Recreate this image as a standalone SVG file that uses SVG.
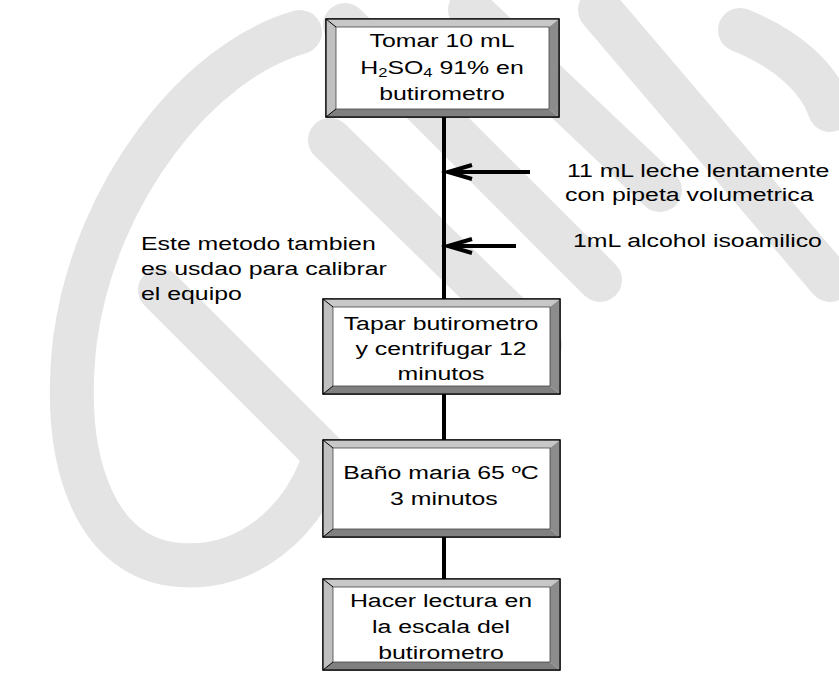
<svg xmlns="http://www.w3.org/2000/svg" width="839" height="674" viewBox="0 0 839 674">
  <defs>
    <style>
      .t { font-family: "Liberation Sans", Arial, sans-serif; font-size: 18px; fill: #000; }
      .c { text-anchor: middle; }
      .outer { fill: #fff; stroke: #000; stroke-width: 1.2; }
      .frame { fill: none; stroke: #000; stroke-width: 1.2; }
      .inner { fill: #fff; stroke: #444; stroke-width: 0.8; }
      .bev-t { fill: #c8c8c8; }
      .bev-l { fill: #c0c0c0; }
      .bev-b { fill: #808080; }
      .bev-r { fill: #8c8c8c; }
      .corner { stroke: #000; stroke-width: 1; fill: none; }
      .wire { stroke: #000; stroke-width: 4; fill: none; }
      .mark { stroke: #e4e4e4; stroke-width: 44; fill: none; stroke-linecap: round; stroke-linejoin: round; }
    </style>
    <!-- open chevron arrowhead, tip at the line end -->
    <marker id="head" markerUnits="userSpaceOnUse" markerWidth="30" markerHeight="24" refX="25" refY="10" orient="auto" overflow="visible">
      <path d="M1,3 L25,10 L1,17" fill="none" stroke="#000" stroke-width="4"/>
    </marker>
  </defs>

  <rect width="839" height="674" fill="#fff"/>

  <!-- background watermark strokes -->
  <g id="watermark">
    <path class="mark" d="M300,32 C200,60 95,190 75,340 C60,470 100,560 180,565 C250,570 300,520 320,470"/>
    <path class="mark" d="M160,290 L330,460"/>
    <path class="mark" d="M345,25 L600,280"/>
    <path class="mark" d="M330,140 L540,345"/>
    <path class="mark" d="M470,10 L660,190"/>
    <path class="mark" d="M600,10 L830,280"/>
    <path class="mark" d="M740,30 C790,50 820,80 830,110"/>
  </g>

  <!-- connectors -->
  <g id="connectors">
    <line class="wire" x1="444" y1="112" x2="444" y2="303"/>
    <line class="wire" x1="444" y1="390" x2="444" y2="444"/>
    <line class="wire" x1="444" y1="532" x2="444" y2="583"/>
    <line class="wire" x1="530" y1="172" x2="448" y2="172" marker-end="url(#head)"/>
    <line class="wire" x1="516" y1="246" x2="448" y2="246" marker-end="url(#head)"/>
  </g>

  <!-- step 1 -->
  <g id="n1">
    <rect class="outer" x="326" y="19" width="233" height="98"/>
    <polygon class="bev-t" points="326,19 559,19 549,27 336,27"/>
    <polygon class="bev-l" points="326,19 336,27 336,109 326,117"/>
    <polygon class="bev-b" points="326,117 336,109 549,109 559,117"/>
    <polygon class="bev-r" points="559,19 549,27 549,109 559,117"/>
    <rect class="inner" x="336" y="27" width="213" height="82"/>
    <path class="corner" d="M326,19 L336,27 M326,117 L336,109"/>
    <rect class="frame" x="326" y="19" width="233" height="98"/>
    <text class="t c" transform="translate(442 47) scale(1.38 1)">Tomar 10 mL</text>
    <text class="t c" transform="translate(442 74) scale(1.38 1)">H<tspan font-size="12" dy="3">2</tspan><tspan dy="-3">SO</tspan><tspan font-size="12" dy="3">4</tspan><tspan dy="-3"> 91% en</tspan></text>
    <text class="t c" transform="translate(442 100) scale(1.38 1)">butirometro</text>
  </g>

  <!-- step 2 -->
  <g id="n2">
    <rect class="outer" x="323" y="299" width="237" height="95"/>
    <polygon class="bev-t" points="323,299 560,299 550,307 333,307"/>
    <polygon class="bev-l" points="323,299 333,307 333,386 323,394"/>
    <polygon class="bev-b" points="323,394 333,386 550,386 560,394"/>
    <polygon class="bev-r" points="560,299 550,307 550,386 560,394"/>
    <rect class="inner" x="333" y="307" width="217" height="79"/>
    <path class="corner" d="M323,299 L333,307 M323,394 L333,386"/>
    <rect class="frame" x="323" y="299" width="237" height="95"/>
    <text class="t c" transform="translate(441 330) scale(1.38 1)">Tapar butirometro</text>
    <text class="t c" transform="translate(441 355) scale(1.38 1)">y centrifugar 12</text>
    <text class="t c" transform="translate(441 380) scale(1.38 1)">minutos</text>
  </g>

  <!-- step 3 -->
  <g id="n3">
    <rect class="outer" x="323" y="440" width="237" height="97"/>
    <polygon class="bev-t" points="323,440 560,440 550,448 333,448"/>
    <polygon class="bev-l" points="323,440 333,448 333,529 323,537"/>
    <polygon class="bev-b" points="323,537 333,529 550,529 560,537"/>
    <polygon class="bev-r" points="560,440 550,448 550,529 560,537"/>
    <rect class="inner" x="333" y="448" width="217" height="81"/>
    <path class="corner" d="M323,440 L333,448 M323,537 L333,529"/>
    <rect class="frame" x="323" y="440" width="237" height="97"/>
    <text class="t c" transform="translate(441 479) scale(1.38 1)">Baño maria 65 ºC</text>
    <text class="t" transform="translate(390 505) scale(1.38 1)">3 minutos</text>
  </g>

  <!-- step 4 -->
  <g id="n4">
    <rect class="outer" x="323" y="579" width="237" height="91"/>
    <polygon class="bev-t" points="323,579 560,579 550,587 333,587"/>
    <polygon class="bev-l" points="323,579 333,587 333,662 323,670"/>
    <polygon class="bev-b" points="323,670 333,662 550,662 560,670"/>
    <polygon class="bev-r" points="560,579 550,587 550,662 560,670"/>
    <rect class="inner" x="333" y="587" width="217" height="75"/>
    <path class="corner" d="M323,579 L333,587 M323,670 L333,662"/>
    <rect class="frame" x="323" y="579" width="237" height="91"/>
    <text class="t c" transform="translate(441 607) scale(1.38 1)">Hacer lectura en</text>
    <text class="t c" transform="translate(441 633) scale(1.38 1)">la escala del</text>
    <text class="t c" transform="translate(441 659) scale(1.38 1)">butirometro</text>
  </g>

  <!-- side notes -->
  <g id="note-milk">
    <text class="t" transform="translate(567 177) scale(1.38 1)">11 mL leche lentamente</text>
    <text class="t" transform="translate(565 201) scale(1.38 1)">con pipeta volumetrica</text>
  </g>
  <g id="note-alcohol">
    <text class="t" transform="translate(573 247) scale(1.38 1)">1mL alcohol isoamilico</text>
  </g>
  <g id="note-calibration">
    <text class="t" transform="translate(141 250) scale(1.38 1)">Este metodo tambien</text>
    <text class="t" transform="translate(141 275) scale(1.38 1)">es usdao para calibrar</text>
    <text class="t" transform="translate(141 300) scale(1.38 1)">el equipo</text>
  </g>
</svg>
